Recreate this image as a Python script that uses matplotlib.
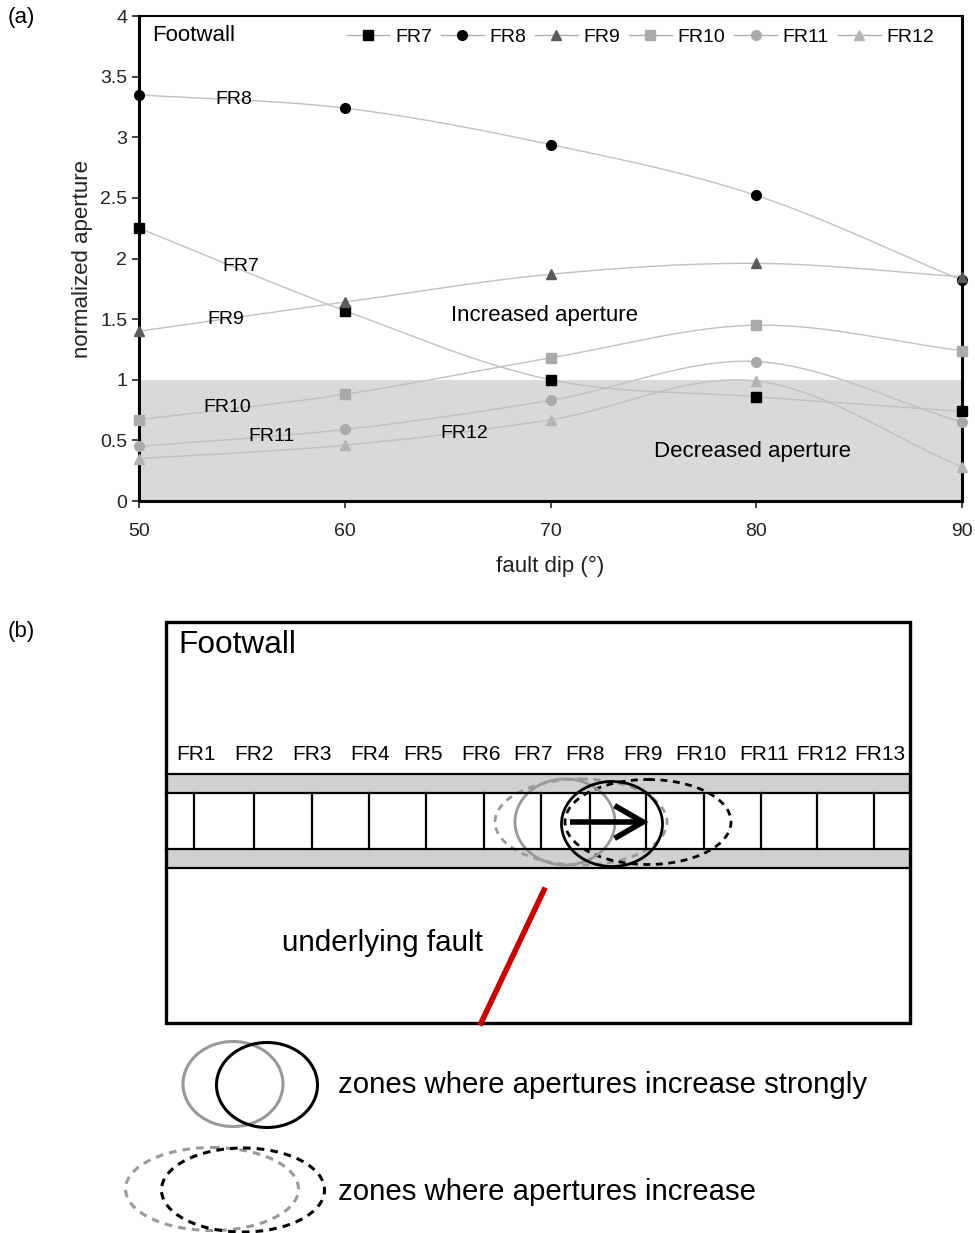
import numpy as np
import matplotlib.pyplot as plt
from matplotlib.patches import Ellipse, Rectangle
from matplotlib.lines import Line2D

plt.rcParams['font.family'] = ['Liberation Sans', 'DejaVu Sans']

# datos del panel (a)
dip = [50, 60, 70, 80, 90]
series = ['FR7', 'FR8', 'FR9', 'FR10', 'FR11', 'FR12']
fr7 = [2.25, 1.57, 1.00, 0.86, 0.74]
fr8 = [3.35, 3.24, 2.94, 2.52, 1.82]
fr9 = [1.40, 1.64, 1.87, 1.96, 1.85]
fr10 = [0.67, 0.88, 1.18, 1.45, 1.24]
fr11 = [0.45, 0.59, 0.83, 1.15, 0.65]
fr12 = [0.35, 0.46, 0.67, 0.99, 0.28]
valores = [fr7, fr8, fr9, fr10, fr11, fr12]
marcadores = ['s', 'o', '^', 's', 'o', '^']
colores = ['black', 'black', '#5a5a5a', '#aaaaaa', '#aaaaaa', '#b4b4b4']

# etiquetas del esquema (b)
fracturas = ['FR%d' % i for i in range(1, 14)]


def suavizar(x, y, n=40):
    # curva tipo Catmull-Rom como la linea suavizada de Excel
    x = np.asarray(x, float)
    y = np.asarray(y, float)
    px = np.concatenate([[2 * x[0] - x[1]], x, [2 * x[-1] - x[-2]]])
    py = np.concatenate([[2 * y[0] - y[1]], y, [2 * y[-1] - y[-2]]])
    xs, ys = [], []
    t = np.linspace(0, 1, n)
    for i in range(1, len(px) - 2):
        for p, out in ((px, xs), (py, ys)):
            p0, p1, p2, p3 = p[i - 1], p[i], p[i + 1], p[i + 2]
            out.extend(0.5 * ((2 * p1) + (-p0 + p2) * t
                              + (2 * p0 - 5 * p1 + 4 * p2 - p3) * t ** 2
                              + (-p0 + 3 * p1 - 3 * p2 + p3) * t ** 3))
    return xs, ys


fig = plt.figure(figsize=(9.75, 12.33), dpi=100)

# ---------------- panel (a)
ax = fig.add_axes([139 / 975, 1 - 501 / 1233, 823 / 975, 485 / 1233])
ax.axhspan(0, 1, color='#d9d9d9', zorder=0, lw=0)
handles = []
for nombre, v, m, c in zip(series, valores, marcadores, colores):
    sx, sy = suavizar(dip, v)
    ax.plot(sx, sy, color='#c0c0c0', lw=1, zorder=2, clip_on=False)
    ax.plot(dip, v, ls='none', marker=m, color=c, ms=7, zorder=3, clip_on=False)
    handles.append(Line2D([], [], color='#b0b0b0', lw=1, marker=m, mfc=c, mec=c, ms=7))

ax.set_xlim(50, 90)
ax.set_ylim(0, 4)
ax.set_xticks(dip)
ax.set_yticks([0, 0.5, 1, 1.5, 2, 2.5, 3, 3.5, 4])
ax.set_yticklabels(['0', '0.5', '1', '1.5', '2', '2.5', '3', '3.5', '4'])
ax.tick_params(labelsize=14, colors='#222222', length=5, width=1.2)
ax.tick_params(axis='x', pad=11)
for s in ['left', 'bottom', 'right']:
    ax.spines[s].set_linewidth(2.2)
ax.spines['top'].set_linewidth(1.5)
ax.set_xlabel('fault dip (°)', fontsize=16, color='#222222', labelpad=11)
ax.set_ylabel('normalized aperture', fontsize=16, color='#222222', labelpad=5)

ax.text(50.63, 3.84, 'Footwall', fontsize=16, va='center')
ax.text(54.6, 3.31, 'FR8', fontsize=14, ha='center', va='center')
ax.text(54.96, 1.93, 'FR7', fontsize=14, ha='center', va='center')
ax.text(54.23, 1.50, 'FR9', fontsize=14, ha='center', va='center')
ax.text(69.7, 1.53, 'Increased aperture', fontsize=16, ha='center', va='center')
ax.text(54.28, 0.77, 'FR10', fontsize=14, ha='center', va='center')
ax.text(56.46, 0.53, 'FR11', fontsize=14, ha='center', va='center')
ax.text(65.8, 0.56, 'FR12', fontsize=14, ha='center', va='center')
ax.text(79.84, 0.41, 'Decreased aperture', fontsize=16, ha='center', va='center')

ax.legend(handles, series, ncol=6, frameon=False, fontsize=14, loc='center right',
          bbox_to_anchor=(0.978, 0.957), handlelength=2.2, handletextpad=0.3,
          columnspacing=0.45, borderpad=0)

fig.text(8 / 975, 1 - 18 / 1233, '(a)', fontsize=16, va='center')
fig.text(8 / 975, 1 - 632 / 1233, '(b)', fontsize=16, va='center')

# ---------------- panel (b), coordenadas en pixeles
bx = fig.add_axes([0, 0, 1, (1233 - 590) / 1233])
bx.set_xlim(0, 975)
bx.set_ylim(1233, 590)
bx.axis('off')

bx.add_patch(Rectangle((166, 774), 744, 19, fc='#d0d0d0', ec='none'))
bx.add_patch(Rectangle((166, 849), 744, 19, fc='#d0d0d0', ec='none'))
for yy in [774, 793, 849, 868]:
    bx.plot([166, 910], [yy, yy], color='black', lw=1.6)
celdas = [194, 254, 312, 369, 426, 484, 541, 590, 646, 704, 761, 817, 874]
for xx in celdas:
    bx.plot([xx, xx], [793, 849], color='black', lw=1.6)
pos_etq = [196, 254, 312, 370, 423, 481, 533, 585, 643, 701, 764, 822, 880]
for nombre, xx in zip(fracturas, pos_etq):
    bx.text(xx, 755, nombre, fontsize=15, ha='center', va='center')

bx.add_patch(Rectangle((166, 622), 744, 401, fc='none', ec='black', lw=2.4))
bx.text(178, 645, 'Footwall', fontsize=22.8, va='center')

bx.add_patch(Ellipse((581, 822), 172, 86, fc='none', ec='#999999', lw=2, ls=(0, (2.5, 2))))
bx.add_patch(Ellipse((648, 822), 166, 85, fc='none', ec='black', lw=2, ls=(0, (2.5, 2))))
bx.add_patch(Ellipse((565, 822), 100, 86, fc='none', ec='#999999', lw=2))
bx.add_patch(Ellipse((612, 824), 101, 85, fc='none', ec='black', lw=2))
bx.plot([570, 641], [822, 822], color='black', lw=4, solid_capstyle='butt')
bx.plot([617, 643, 617], [807, 822, 837], color='black', lw=4, solid_joinstyle='miter')

bx.plot([544, 481], [890, 1023], color='#cc0000', lw=4)
bx.text(382, 943, 'underlying fault', fontsize=21.3, ha='center', va='center')

bx.add_patch(Ellipse((233, 1084), 100, 85, fc='none', ec='#999999', lw=2.2))
bx.add_patch(Ellipse((267, 1085), 101, 85, fc='none', ec='black', lw=2.2))
bx.add_patch(Ellipse((212, 1189), 173, 83, fc='none', ec='#999999', lw=2.2, ls=(0, (2.5, 2))))
bx.add_patch(Ellipse((243, 1190), 163, 84, fc='none', ec='black', lw=2.2, ls=(0, (2.5, 2))))
bx.text(338, 1085, 'zones where apertures increase strongly', fontsize=21.2, va='center')
bx.text(338, 1192, 'zones where apertures increase', fontsize=21.2, va='center')

fig.savefig('out.png', dpi=100)
